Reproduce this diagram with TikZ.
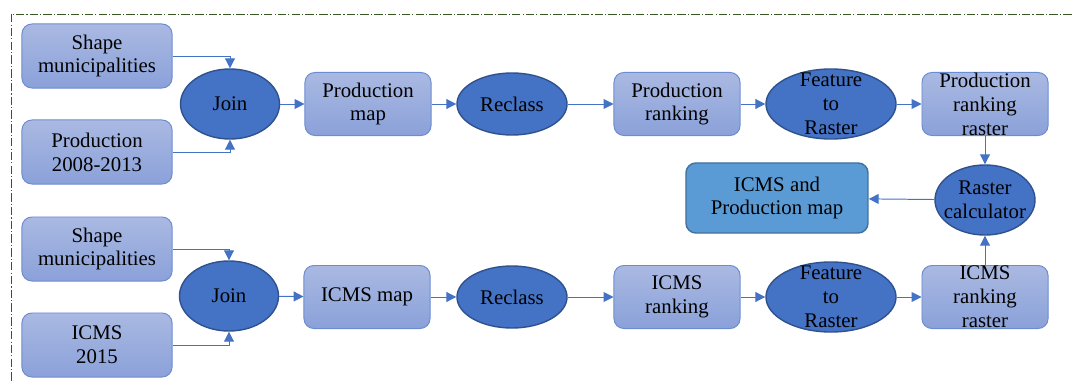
\documentclass[tikz,border=0pt]{standalone}
\usepackage{fontspec}
\setmainfont{Liberation Serif}
\newfontfamily\diagfont{Liberation Serif}
\usetikzlibrary{arrows.meta, shapes.geometric}

\definecolor{boxtop}{RGB}{170,185,226}
\definecolor{boxbot}{RGB}{138,161,217}
\definecolor{boxline}{RGB}{108,140,210}
\definecolor{toolfill}{RGB}{68,114,196}
\definecolor{toolline}{RGB}{47,82,143}
\definecolor{endfill}{RGB}{91,155,213}
\definecolor{endline}{RGB}{65,113,156}
\definecolor{arrowc}{RGB}{68,114,196}
\definecolor{frame}{RGB}{56,87,35}

\begin{document}
\begin{tikzpicture}[x=0.025cm, y=-0.025cm]
	\tikzstyle{Data} = [rectangle, rounded corners=7pt, minimum width=3.75cm, minimum height=1.6cm, inner sep=0pt, align=center, draw=boxline, line width=0.7pt, top color=boxtop, bottom color=boxbot, font=\diagfont\fontsize{14.8}{17}\selectfont]
	\tikzstyle{Map} = [Data, minimum width=3.15cm, minimum height=1.575cm]
	\tikzstyle{Tool} = [ellipse, minimum width=2.5cm, minimum height=1.75cm, inner sep=0pt, align=center, draw=toolline, line width=1pt, fill=toolfill, font=\diagfont\fontsize{14.8}{17}\selectfont]
	\tikzstyle{Inside} = [align=center, inner sep=0pt, font=\diagfont\fontsize{14.8}{17}\selectfont]
	\tikzstyle{arrow} = [draw=arrowc, line width=0.7pt, -{Triangle[length=7pt,width=7pt]}]

	\useasboundingbox (0,0) rectangle (1072,381);
	\clip (0,0) rectangle (1072,381);
	\draw [frame, line width=0.6pt, dash pattern=on 6pt off 1.5pt on 0.8pt off 1.5pt] (11,14) rectangle (1100,420);

	% production row
	\node (sm1) [Data] at (97,56) {Shape\\municipalities};
	\node (pd1) [Data] at (97,152) {Production\\2008-2013};
	\node (jn1) [Tool, minimum width=2.475cm] at (230,104) {Join};
	\node (pm1) [Map] at (368,104) {Production\\map};
	\node (rc1) [Tool, minimum width=2.75cm, minimum height=1.55cm] at (512,104) {Reclass};
	\node (rk1) [Map] at (677,104) {Production\\ranking};
	\node (fr1) [Tool, minimum width=3.25cm, label={[Inside]center:Feature\\to\\Raster}] at (831,104) {};
	\node (rr1) [Map, label={[Inside]center:Production\\ranking\\raster}] at (985,104) {};

	% result
	\node (calc) [Tool, label={[Inside]center:Raster\\calculator}] at (985,200) {};
	\node (res) [Data, minimum width=4.55cm, minimum height=1.75cm, top color=endfill, bottom color=endfill, draw=endline, line width=1pt] at (777,198) {ICMS and\\Production map};

	% icms row
	\node (sm2) [Data] at (97,249) {Shape\\municipalities};
	\node (ic2) [Data] at (97,345) {ICMS\\2015};
	\node (jn2) [Tool, minimum width=2.475cm] at (229,296) {Join};
	\node (pm2) [Map] at (367,297) {ICMS map};
	\node (rc2) [Tool, minimum width=2.75cm, minimum height=1.55cm] at (512,297) {Reclass};
	\node (rk2) [Map] at (677,297) {ICMS\\ranking};
	\node (fr2) [Tool, minimum width=3.25cm, label={[Inside]center:Feature\\to\\Raster}] at (831,297) {};
	\node (rr2) [Map, label={[Inside]center:ICMS\\ranking\\raster}] at (985,297) {};

	\draw [arrow] (sm1.east) -| (jn1.north);
	\draw [arrow] (pd1.east) -| (jn1.south);
	\draw [arrow] (jn1) -- (pm1);
	\draw [arrow] (pm1) -- (rc1);
	\draw [arrow] (rc1) -- (rk1);
	\draw [arrow] (rk1) -- (fr1);
	\draw [arrow] (fr1) -- (rr1);
	\draw [arrow] (rr1) -- (calc);

	\draw [arrow] (sm2.east) -| (jn2.north);
	\draw [arrow] (ic2.east) -| (jn2.south);
	\draw [arrow] (jn2) -- (pm2);
	\draw [arrow] (pm2) -- (rc2);
	\draw [arrow] (rc2) -- (rk2);
	\draw [arrow] (rk2) -- (fr2);
	\draw [arrow] (fr2) -- (rr2);
	\draw [arrow] (rr2) -- (calc);

	\draw [arrow] (calc) -- (res);
\end{tikzpicture}
\end{document}
